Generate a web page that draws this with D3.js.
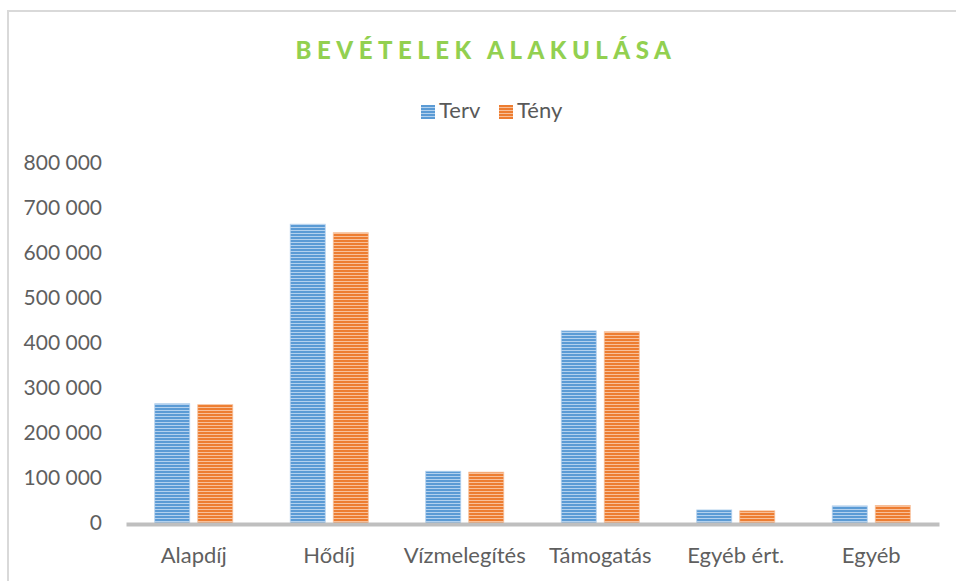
<!DOCTYPE html>
<html>
<head>
<meta charset="utf-8">
<script src="https://cdn.jsdelivr.net/npm/d3@7"></script>
<style>
    body { margin: 0; background: #ffffff; }
    text { font-family: Lato, "Open Sans", sans-serif; }
</style>
</head>
<body>
<svg id="revenue_chart" width="956" height="581"></svg>
<script>
// chart data
const categories  = ["Alapdíj", "Hődíj", "Vízmelegítés", "Támogatás", "Egyéb ért.", "Egyéb"];
const seriesNames = ["Terv", "Tény"];
const tervValues  = [265000, 664000, 115000, 427000, 29000, 38000];
const tenyValues  = [263000, 645000, 113000, 425000, 27000, 39000];
const yTicks      = [0, 100000, 200000, 300000, 400000, 500000, 600000, 700000, 800000];

const seriesValues = { "Terv": tervValues, "Tény": tenyValues };
const seriesColor  = { "Terv": ["#5b9bd5", "#b3d1ee"], "Tény": ["#ed7d31", "#f8c09a"] };

var svg = d3.select("#revenue_chart");

var plot = { left: 126, right: 939, top: 163, bottom: 523 };

// striped fills like the original pattern
var defs = svg.append("defs");
seriesNames.forEach((name, i) =>
{
    let pattern = defs.append("pattern")
        .attr("id", "stripe_" + i)
        .attr("patternUnits", "userSpaceOnUse")
        .attr("width", 6)
        .attr("height", 3);

    pattern.append("rect")
        .attr("width", 6).attr("height", 3)
        .attr("fill", seriesColor[name][0]);

    pattern.append("rect")
        .attr("y", 2)
        .attr("width", 6).attr("height", 1)
        .attr("fill", seriesColor[name][1]);
});

// chart frame
svg.append("rect")
    .attr("x", 8).attr("y", 11)
    .attr("width", 1200).attr("height", 1200)
    .attr("fill", "none")
    .attr("stroke", "#d9d9d9")
    .attr("stroke-width", 2);

// title
svg.append("text")
    .attr("x", 486)
    .attr("y", 59)
    .attr("text-anchor", "middle")
    .attr("fill", "#92d050")
    .attr("font-size", 24)
    .attr("font-weight", 900)
    .attr("letter-spacing", 5.5)
    .text("BEVÉTELEK ALAKULÁSA");

// legend
var legendX = [421, 499];
seriesNames.forEach((name, i) =>
{
    let g = svg.append("g").attr("transform", `translate(${legendX[i]},105)`);

    g.append("rect")
        .attr("width", 14).attr("height", 14)
        .attr("fill", `url(#stripe_${i})`);

    g.append("text")
        .attr("x", 18)
        .attr("y", 13)
        .attr("fill", "#595959")
        .attr("font-size", 22)
        .text(name);
});

// scales
const x0 = d3.scaleBand()
    .domain(categories)
    .range([plot.left, plot.right])
    .paddingInner(0.424)
    .paddingOuter(0.212);

const x1 = d3.scaleBand()
    .domain(seriesNames)
    .range([0, x0.bandwidth()])
    .paddingInner(0.186);

const y = d3.scaleLinear()
    .domain([0, 800000])
    .range([plot.bottom, plot.top]);

// y axis labels only
const axisY = d3.axisLeft(y)
    .tickValues(yTicks)
    .tickSize(0)
    .tickPadding(0)
    .tickFormat(d => d3.format(",")(d).replace(/,/g, " "));

const gy = svg.append("g")
    .attr("transform", "translate(102,0)")
    .call(axisY);

gy.select(".domain").remove();
gy.selectAll("text")
    .attr("fill", "#5f5f5f")
    .attr("font-size", 21)
    .style("font-family", "Lato, 'Open Sans', sans-serif");

// bars
seriesNames.forEach((name, i) =>
{
    svg.append("g").selectAll("rect")
        .data(categories.map((c, k) => ({ cat: c, value: seriesValues[name][k] })))
        .enter().append("rect")
        .attr("x",      d => x0(d.cat) + x1(name))
        .attr("width",  x1.bandwidth())
        .attr("y",      d => y(d.value))
        .attr("height", d => y(0) - y(d.value))
        .attr("fill",   `url(#stripe_${i})`)
        .attr("stroke", seriesColor[name][1])
        .attr("stroke-width", 0.8);
});

// x axis with thick gray baseline
const axisX = d3.axisBottom(x0)
    .tickSize(0)
    .tickSizeOuter(0)
    .tickPadding(23);

const gx = svg.append("g")
    .attr("transform", `translate(0,${plot.bottom + 1})`)
    .call(axisX);

gx.select(".domain")
    .attr("stroke", "#bfbfbf")
    .attr("stroke-width", 4);

gx.selectAll("text")
    .attr("fill", "#5f5f5f")
    .attr("font-size", 22)
    .style("font-family", "Lato, 'Open Sans', sans-serif");
</script>
</body>
</html>
